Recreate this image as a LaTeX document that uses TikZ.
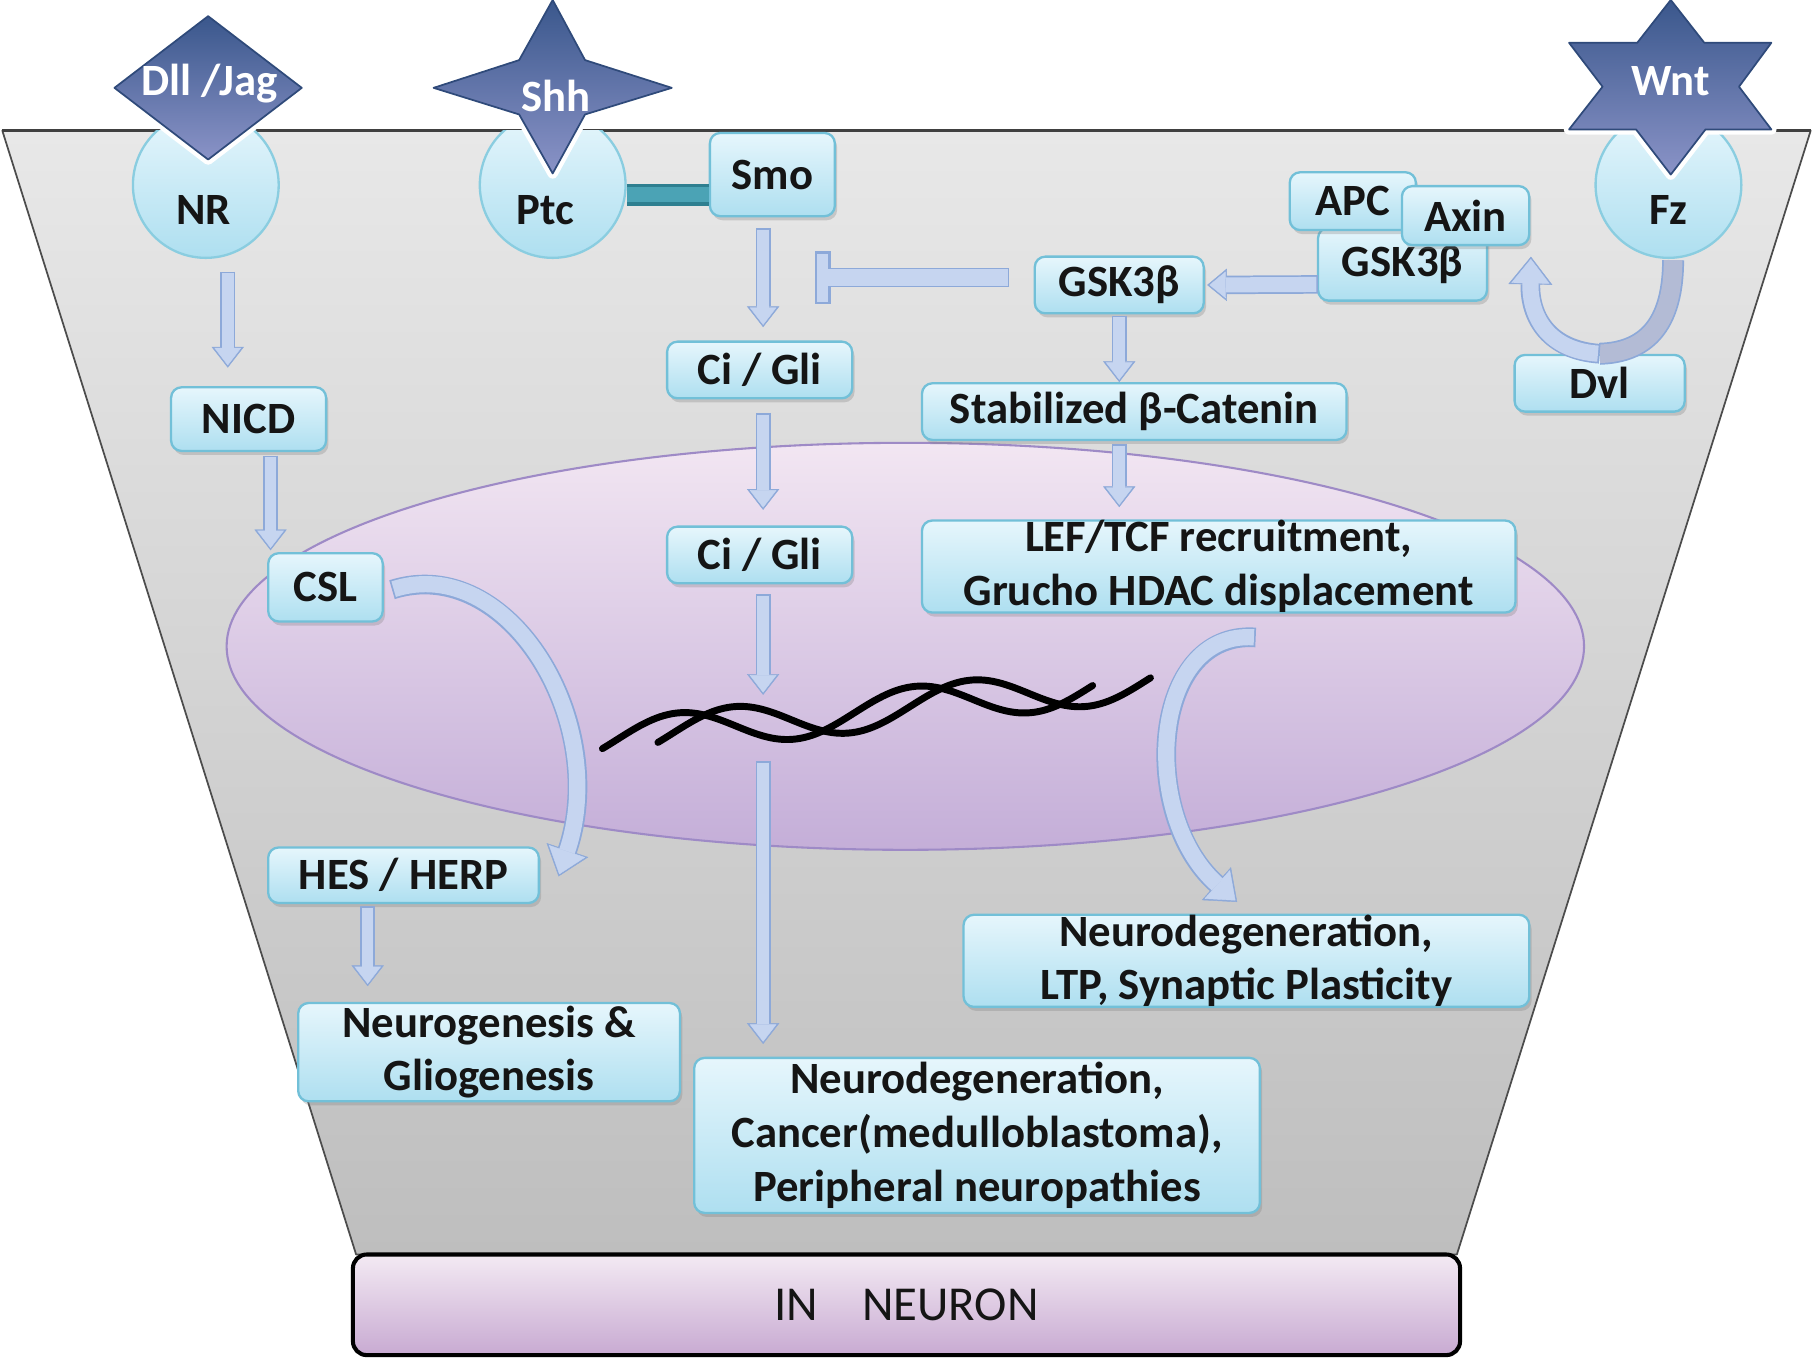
\documentclass[tikz,border=0pt]{standalone}
\usepackage{fontspec}
\setmainfont{Carlito}
\usepackage{tikz}
\usetikzlibrary{positioning}
\usetikzlibrary{calc}
\usetikzlibrary{arrows.meta}
\usetikzlibrary{shadows}

\definecolor{boxtop}{HTML}{E6F6FC}
\definecolor{boxbot}{HTML}{AEDFF0}
\definecolor{boxedge}{HTML}{72C0D8}
\definecolor{recedge}{HTML}{8ACDE0}
\definecolor{flowedge}{HTML}{8DA9D9}
\definecolor{flowfill}{HTML}{C6D5F0}
\definecolor{bandfill}{HTML}{B3BBD5}
\definecolor{ligdark}{HTML}{3A578C}
\definecolor{ligpale}{HTML}{8A93C7}
\definecolor{ligedge}{HTML}{2F4A7A}
\definecolor{celltop}{HTML}{E8E8E8}
\definecolor{cellbot}{HTML}{BEBEBE}
\definecolor{nuctop}{HTML}{F2E6F2}
\definecolor{nucbot}{HTML}{C4AED8}
\definecolor{nucedge}{HTML}{9E8AC6}
\definecolor{linkfill}{HTML}{4BA3B5}
\definecolor{linkedge}{HTML}{2E7F90}
\definecolor{neutop}{HTML}{F3EAF3}
\definecolor{neubot}{HTML}{C8AAD2}
\definecolor{ink}{HTML}{151515}

\begin{document}
\begin{tikzpicture}[
            x = 0.01cm, % one unit = one pixel of the sketch
            y = -0.01cm, % rows grow downwards
            line join = round,
            semithick
        ]

        \tikzstyle{box}=[
            draw = boxedge,
            line width = .02cm,
            rounded corners = .09cm,
            top color = boxtop,
            bottom color = boxbot,
            drop shadow = {shadow xshift=.02cm, shadow yshift=-.035cm, opacity=.3},
            text = ink,
            font = \fontsize{11}{13.2}\selectfont\bfseries,
            align = center,
            inner sep = 0pt
        ]
        \tikzstyle{receptor}=[
            circle,
            draw = recedge,
            line width = .02cm,
            top color = boxtop,
            bottom color = boxbot,
            minimum size = 1.26cm,
            inner sep = 0pt
        ]
        \tikzstyle{rectext}=[text = ink, font = \fontsize{11}{13}\selectfont\bfseries]
        \tikzstyle{ligand}=[
            preaction = {draw=white, line width=.09cm},
            top color = ligdark,
            bottom color = ligpale,
            draw = ligedge,
            line width = .015cm
        ]
        \tikzstyle{ligtext}=[text = white, font = \fontsize{11}{13}\selectfont\bfseries]
        \tikzstyle{flow}=[
            preaction = {draw=flowedge, line width=.13cm, shorten >=0pt, shorten <=0pt,
                -{Triangle[length=.18cm 0, width=.28cm 0, line width=.1pt]}},
            draw = flowfill,
            line width = .1cm,
            shorten >= .02cm, shorten <= .015cm,
            -{Triangle[length=.15cm 0, width=.23cm 0, line width=.1pt]}
        ]
        \tikzstyle{sideflow}=[
            preaction = {draw=flowedge, line width=.16cm, shorten >=0pt, shorten <=0pt,
                -{Triangle[length=.17cm 0, width=.28cm 0, line width=.1pt]}},
            draw = flowfill,
            line width = .13cm,
            shorten >= .02cm, shorten <= .015cm,
            -{Triangle[length=.14cm 0, width=.23cm 0, line width=.1pt]}
        ]
        \tikzstyle{bigflow}=[
            preaction = {draw=flowedge, line width=.17cm, shorten >=0pt, shorten <=0pt,
                -{Triangle[length=.24cm 0, width=.38cm 0, line width=.1pt]}},
            draw = flowfill,
            line width = .14cm,
            shorten >= .02cm, shorten <= .015cm,
            -{Triangle[length=.21cm 0, width=.33cm 0, line width=.1pt]}
        ]
        \tikzstyle{band}=[
            preaction = {draw=flowedge, line width=.19cm},
            draw = bandfill,
            line width = .16cm
        ]
        \tikzstyle{inhibit}=[
            preaction = {draw=flowedge, line width=.17cm, shorten >=0pt, shorten <=0pt,
                -{Rectangle[length=.13cm 0, width=.45cm 0, line width=.1pt]}},
            draw = flowfill,
            line width = .14cm,
            shorten >= .02cm, shorten <= .015cm,
            -{Rectangle[length=.09cm 0, width=.41cm 0, line width=.1pt]}
        ]
        \tikzstyle{tether}=[
            preaction = {draw=linkedge, line width=.19cm},
            draw = linkfill,
            line width = .13cm
        ]
        \tikzstyle{dna}=[draw = black, line width = .06cm, line cap = round]

        \useasboundingbox (0,0) rectangle (1568,1174);

	% cell body
        \draw[draw=gray!60!black, line width=.015cm, top color=celltop, bottom color=cellbot]
            (2,113) -- (1566,113) -- (1260,1085) -- (308,1085) -- cycle;
        \draw[draw=black!75, line width=.025cm] (2,113) -- (1566,113);

	% nucleus
        \draw[draw=nucedge, line width=.018cm, top color=nuctop, bottom color=nucbot]
            (783,559) ellipse [x radius=587, y radius=176];

        % DNA
        \draw[dna] plot[domain=521:945, samples=120]
            (\x, {626-0.112*(\x-654)-17*sin(1.756*(\x-534))});
        \draw[dna] plot[domain=569:995, samples=120]
            (\x, {626-0.112*(\x-654)-17*sin(1.756*(\x-582))});
        \coordinate (dnaTop) at (660,601);
        \coordinate (dnaBot) at (660,658);

	% receptors, cut at the membrane
        \begin{scope}
            \clip (0,113) rectangle (1568,400);
            \node[receptor] (NR) at (178,160) {};
            \node[receptor] (Ptc) at (478,160) {};
            \node[receptor] (Fz) at (1443,160) {};
        \end{scope}
        \node[rectext] (NRt) at (176,182) {NR};
        \node[rectext] (Ptct) at (472,182) {Ptc};
        \node[rectext] (Fzt) at (1443,182) {Fz};

	% ligands
        \draw[ligand] (180,14) -- (261,76) -- (180,138) -- (99,76) -- cycle;
        \node[ligtext] (DJ) at (181,72) {Dll /Jag};

        \draw[ligand] (478,0) -- (506,52) -- (581,76) -- (506,99) -- (478,150)
            -- (449,99) -- (375,76) -- (449,52) -- cycle;
        \node[ligtext] (Shh) at (481,83) {Shh};

        \draw[ligand] (1445,0) -- (1474,37) -- (1532,37) -- (1504,75) -- (1532,112)
            -- (1475,112) -- (1445,151) -- (1415,112) -- (1357,112) -- (1386,75)
            -- (1357,37) -- (1416,37) -- cycle;
        \node[ligtext] (Wnt) at (1445,70) {Wnt};

	% Notch branch
        \node[box, minimum width=1.34cm, minimum height=.55cm] (NICD) at (215,362.5) {NICD};
        \node[box, minimum width=.99cm, minimum height=.59cm] (CSL) at (281.5,508) {CSL};
        \node[box, minimum width=2.34cm, minimum height=.48cm] (HES) at (349,757) {HES / HERP};
        \node[box, minimum width=3.3cm, minimum height=.85cm] (NeuGen) at (423,910)
            {Neurogenesis \&\\Gliogenesis};

        \draw[flow] ($(NR.south)+(19,11)$) -- ($(NICD.north)+(-18,-16)$);
        \draw[flow] ($(NICD.south)+(19,3)$) -- ($(CSL.north)+(-47.5,-1.5)$);
        \draw[bigflow] ($(CSL.east)+(7,2)$) .. controls (440,478) and (528,625) .. ($(HES.east)+(16,1)$);
        \draw[flow] ($(HES.south)+(-31,2)$) -- ($(NeuGen.north)+(-105,-13.5)$);

	% Hedgehog branch
        \node[box, minimum width=1.08cm, minimum height=.72cm] (Smo) at (668,151) {Smo};
        \node[box, minimum width=1.6cm, minimum height=.49cm] (Ci1) at (657,320) {Ci / Gli};
        \node[box, minimum width=1.6cm, minimum height=.49cm] (Ci2) at (657,480) {Ci / Gli};
        \node[box, minimum width=4.89cm, minimum height=1.34cm] (NeuCan) at (845,982)
            {Neurodegeneration,\\Cancer(medulloblastoma),\\Peripheral neuropathies};

        \coordinate (tetherY) at (0,168.5);
        \draw[tether] (Ptc.east |- tetherY) -- (Smo.west |- tetherY);

        \draw[flow] ($(Smo.south)+(-8,9)$) -- ($(Ci1.north)+(3,-11.5)$);
        \draw[flow] ($(Ci1.south)+(3,11.5)$) -- ($(Ci2.north)+(3,-13.5)$);
        \draw[flow] ($(Ci2.south)+(3,8.5)$) -- (dnaTop);
        \draw[flow] (dnaBot) -- ($(NeuCan.north)+(-185,-11)$);

	% Wnt branch
        \node[box, minimum width=1.46cm, minimum height=.63cm] (GSKc) at (1213,228.5) {GSK3β};
        \node[box, minimum width=1.09cm, minimum height=.5cm] (APC) at (1170,174) {APC};
        \node[box, minimum width=1.1cm, minimum height=.51cm] (Axin) at (1267.5,186.5) {Axin};
        \node[box, minimum width=1.46cm, minimum height=.49cm] (GSK) at (968,246.5) {GSK3β};
        \node[box, minimum width=3.67cm, minimum height=.49cm] (Stab) at (981,356) {Stabilized β-Catenin};
        \node[box, minimum width=5.13cm, minimum height=.77cm] (LEF) at (1054,490)
            {LEF/TCF recruitment,\\Grucho HDAC displacement};
        \node[box, minimum width=1.47cm, minimum height=.49cm] (Dvl) at (1383.5,331.5) {Dvl};
        \node[box, minimum width=4.89cm, minimum height=.72cm] (NeuLTP) at (1078,831)
            {Neurodegeneration,\\LTP, Synaptic Plasticity};

        \draw[band] ($(Fz.south)+(4,1)$) .. controls (1447,290) and (1415,305) .. (Dvl.north);
        \draw[bigflow] (Dvl.north) .. controls (1340,303) and (1323,275) .. ($(GSKc.east)+(37,-6.5)$);
        \draw[sideflow] ($(GSKc.west)+(1,17.5)$) -- ($(GSK.east)+(2,0)$);
        \coordinate (block) at (705,240);
        \draw[inhibit] ($(GSK.west)+(-21,-6.5)$) -- (block);
        \draw[flow] ($(GSK.south)+(0,1)$) -- ($(Stab.north)+(-13,0)$);
        \draw[flow] ($(Stab.south)+(-13,2.5)$) -- ($(LEF.north)+(-86,-10.5)$);
        \draw[bigflow] ($(LEF.south)+(32,20.5)$) .. controls (995,545) and (985,705) .. ($(NeuLTP.north)+(-8,-10)$);

	% neuron label
        \node[draw=black, line width=.035cm, rounded corners=.12cm, top color=neutop, bottom color=neubot,
              minimum width=9.57cm, minimum height=.87cm, text=ink,
              font=\fontsize{12}{14}\selectfont] (Neuron) at (784,1128.5) {IN\hspace{.38cm}NEURON};

\end{tikzpicture}
\end{document}
